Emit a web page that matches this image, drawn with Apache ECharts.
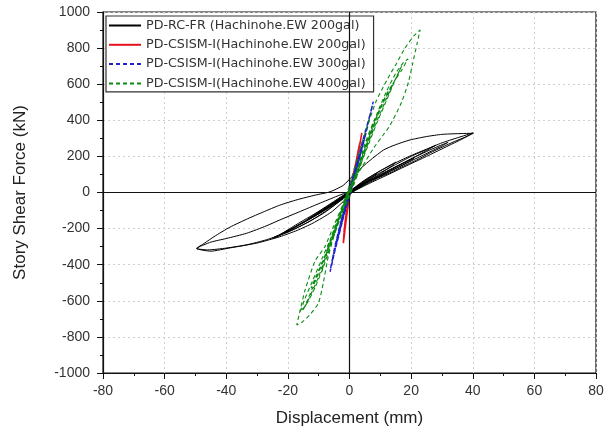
<!DOCTYPE html>
<html>
<head>
<meta charset="utf-8">
<script src="https://cdn.jsdelivr.net/npm/echarts@6/dist/echarts.min.js"></script>
<style>
html,body{margin:0;padding:0;background:#fff;}
#c{width:609px;height:432px;}
</style>
</head>
<body>
<div id="c"></div>
<script>
// ---- Data ----
const seriesNames = [
  'PD-RC-FR (Hachinohe.EW 200gal)',
  'PD-CSISM-I(Hachinohe.EW 200gal)',
  'PD-CSISM-I(Hachinohe.EW 300gal)',
  'PD-CSISM-I(Hachinohe.EW 400gal)'
];
const xTicks = [-80, -60, -40, -20, 0, 20, 40, 60, 80];
const yTicks = [-1000, -800, -600, -400, -200, 0, 200, 400, 600, 800, 1000];

// PD-RC-FR, Hachinohe EW 200gal: [displacement mm, shear kN]
const rcfr200 = [
  [0,0],[2,25],[4,45],[3,30],[1,5],[-1,-15],[-3,-40],[-5,-60],[-4,-45],[-2,-20],[0,5],
  [3,40],[6,75],[9,105],[8,90],[5,55],[2,20],[-1,-12],[-4,-50],[-8,-95],[-11,-125],[-10,-110],[-7,-75],[-3,-30],[0,5],
  [4,55],[8,100],[12,140],[15,168],[14,150],[10,105],[6,60],[2,15],[-2,-25],[-7,-80],[-13,-145],[-19,-205],[-24,-250],[-22,-228],[-17,-175],[-11,-115],[-6,-60],[-2,-15],[1,15],
  [5,60],[10,110],[15,155],[20,200],[25,238],[28,262],[26,242],[21,195],[15,140],[9,85],[4,38],[0,-5],
  [-1.5,-41],[-6,-110],[-11.8,-169],[-17,-210],[-22.6,-245],[-30,-280],[-38.8,-307],[-45,-325],[-49.6,-310],
  [-47,-280],[-44,-245],[-38.8,-192],[-33,-145],[-28,-108],[-22.6,-70],[-17,-40],[-11,-14],[-6.3,4],[-2,40],[1.5,100],[5.6,163],[11,235],[15,265],[19.6,291],[25,310],[30,322],[35,326],[40.2,328],
  [38,310],[34,282],[30.4,254],[26,218],[21.8,180],[17,142],[13.1,108],[9,80],[5.6,60],[2,28],[0,5],
  [-3,-45],[-8,-110],[-14,-170],[-20,-220],[-27,-262],[-33.4,-290],[-40,-308],[-46,-318],[-49.6,-310],
  [-45,-275],[-40,-255],[-33.4,-226],[-27,-185],[-22.6,-152],[-16,-105],[-10,-62],[-4,-20],[0,8],
  [5,70],[10,120],[15,165],[20,205],[25,240],[30,275],[35,303],[40,330],[37,300],[31,250],[25,200],[19,152],[13,103],[7,55],[2,12],
  [-2,-35],[-7,-95],[-12,-150],[-17,-195],[-22,-232],[-25,-252],[-23,-236],[-18,-193],[-12,-138],[-6,-78],[-1,-18],
  [4,45],[10,100],[16,152],[22,203],[28,250],[32,278],[30,258],[24,208],[18,158],[12,108],[6,58],[1,8],
  [-4,-50],[-10,-118],[-16,-178],[-21,-222],[-19,-203],[-13,-143],[-7,-82],[-2,-22],
  [4,42],[10,96],[16,150],[21,190],[19,168],[13,115],[7,60],[1,5],
  [-5,-62],[-11,-125],[-14,-155],[-12,-128],[-6,-65],[0,0]
];

// PD-CSISM-I, Hachinohe EW 200gal
const csism200 = [
  [0,0],[1,80],[2,160],[3,240],[3.6,290],[4,330],[3.6,290],[2.8,210],[1.8,120],[0.8,40],[0,-20],
  [-0.8,-90],[-1.4,-160],[-1.8,-230],[-2,-281],[-1.7,-240],[-1.2,-170],[-0.6,-90],[0,-20],
  [0.8,50],[1.8,140],[2.8,230],[3.3,270],[2.8,220],[1.8,130],[0.8,50],[-0.2,-30],
  [-0.9,-110],[-1.5,-180],[-1.8,-220],[-1.4,-170],[-0.7,-90],[0,0]
];

// PD-CSISM-I, Hachinohe EW 300gal
const csism300 = [
  [0,0],[2,130],[4,260],[5.5,350],[6.8,440],[7.7,503],[7,450],[5.5,340],[3.5,210],[1.5,80],[0,-10],
  [-1.5,-100],[-3,-200],[-4.5,-300],[-5.5,-380],[-6.3,-439],[-5.8,-390],[-4.5,-290],[-3,-180],[-1.5,-70],[0,20],
  [1.5,110],[3,200],[4.5,300],[6,390],[6.5,420],[5.5,350],[4,240],[2.5,140],[1,40],[-0.5,-50],
  [-2,-140],[-3.5,-240],[-5,-340],[-5.6,-380],[-5,-320],[-3.5,-210],[-2,-110],[-0.5,-10],
  [1,70],[3,190],[4.5,280],[5,310],[4,240],[2.5,140],[1,40],[-1,-80],[-2.5,-170],[-4,-270],[-4.5,-300],[-3.5,-220],[-2,-110],[0,0]
];

// PD-CSISM-I, Hachinohe EW 400gal
const csism400 = [
  [0,0],[2,90],[4,180],[5,230],[4,170],[2,70],[0,-20],[-2,-100],[-4,-190],[-5,-240],[-4,-175],[-2,-80],[0,10],
  [2,100],[5,240],[8,380],[9.5,450],[8.5,400],[6,280],[3,140],[0,0],[-3,-140],[-6,-290],[-8,-390],[-9,-440],[-8,-370],[-6,-250],[-3,-110],[0,20],
  [3,130],[6,260],[9,390],[12,510],[14.5,610],[16.9,700],[15.5,650],[12,520],[9,400],[6,270],[3,130],[0,0],
  [-3,-130],[-6,-260],[-9,-400],[-12,-530],[-14,-610],[-15,-650],[-13.5,-600],[-10.1,-470],[-7,-320],[-4,-170],[-1,-30],[1,50],
  [4,140],[8,250],[11,320],[13.1,370],[16.9,500],[19.1,610],[20.5,716],[22,830],[22.9,900],[21,870],[18,800],[15.3,716],[13,650],[11,586],[8.8,512],[6,380],[3,220],[0.2,53],
  [-2,-60],[-5,-180],[-8,-300],[-11.2,-380],[-14.4,-540],[-16,-650],[-17.1,-734],[-15.5,-720],[-13,-680],[-10.1,-614],[-8.5,-500],[-6.9,-356],[-4,-180],[-1,-20],[2,100],
  [5,270],[8,400],[11,500],[14,600],[17,680],[19,740],[17.5,720],[15,660],[12,560],[9,440],[6,300],[3,150],[0,10],
  [-3,-120],[-6,-250],[-9,-370],[-12,-490],[-14.5,-590],[-16,-660],[-14,-620],[-11,-520],[-8,-390],[-5,-230],[-2,-80],[0,10],
  [3,150],[6,290],[9,420],[12,540],[14,600],[12.5,560],[10,470],[7,340],[4,190],[1,40],
  [-2,-90],[-5,-220],[-8,-350],[-11,-470],[-12.5,-530],[-11,-480],[-8,-360],[-5,-220],[-2,-70],[0,0]
];

// ---- Chart ----
const FONT = '"Liberation Sans", Arial, sans-serif';
const chart = echarts.init(document.getElementById('c'), null, {renderer: 'canvas'});
const gridLine = {show: true, lineStyle: {color: '#cfcfcf', type: [2, 3], width: 1}};
const plain = v => String(v);

chart.setOption({
  animation: false,
  backgroundColor: '#fff',
  grid: {left: 103, right: 13, top: 12, bottom: 59, show: true, borderColor: '#111', borderWidth: 1.2, backgroundColor: 'transparent'},
  legend: {
    left: 106, top: 16, orient: 'vertical',
    padding: [3, 8, 2, 2],
    itemWidth: 32, itemHeight: 11, itemGap: 6.3,
    itemStyle: {opacity: 0},
    backgroundColor: '#fff', borderColor: '#333', borderWidth: 1.2, borderRadius: 0,
    textStyle: {fontFamily: '"DejaVu Sans", sans-serif', fontSize: 12.7, color: '#333'},
    data: seriesNames
  },
  xAxis: {
    type: 'value', min: xTicks[0], max: xTicks[xTicks.length - 1], interval: 20,
    name: 'Displacement (mm)', nameLocation: 'middle', nameGap: 37,
    nameTextStyle: {fontFamily: FONT, fontSize: 17, color: '#222'},
    axisLine: {onZero: false, lineStyle: {color: '#111', width: 1.2}},
    axisTick: {show: true, inside: false, length: 6, lineStyle: {color: '#111'}},
    minorTick: {show: true, splitNumber: 2, length: 3, lineStyle: {color: '#111'}},
    axisLabel: {fontFamily: FONT, fontSize: 14, color: '#333', margin: 11, formatter: plain},
    splitLine: gridLine
  },
  yAxis: {
    type: 'value', min: yTicks[0], max: yTicks[yTicks.length - 1], interval: 200,
    name: 'Story Shear Force (kN)', nameLocation: 'middle', nameGap: 74,
    nameTextStyle: {fontFamily: FONT, fontSize: 17, color: '#222'},
    axisLine: {onZero: false, lineStyle: {color: '#111', width: 1.2}},
    axisTick: {show: true, inside: false, length: 6, lineStyle: {color: '#111'}},
    minorTick: {show: true, splitNumber: 2, length: 3, lineStyle: {color: '#111'}},
    axisLabel: {fontFamily: FONT, fontSize: 14, color: '#333', margin: 13, formatter: plain},
    splitLine: gridLine
  },
  series: [
    {
      name: seriesNames[0], type: 'line', data: rcfr200, symbol: 'none', smooth: 0.2,
      lineStyle: {color: '#000', width: 1}, itemStyle: {color: '#000'}, z: 2,
      markLine: {
        silent: true, symbol: 'none', label: {show: false},
        lineStyle: {color: '#111', type: 'solid', width: 1.2},
        data: [{xAxis: 0}, {yAxis: 0}]
      }
    },
    {
      name: seriesNames[1], type: 'line', data: csism200, symbol: 'none', smooth: 0.2,
      lineStyle: {color: '#e8141b', width: 1.6}, itemStyle: {color: '#e8141b'}, z: 3
    },
    {
      name: seriesNames[2], type: 'line', data: csism300, symbol: 'none', smooth: 0.2,
      lineStyle: {color: '#1f22c8', width: 1.5, type: [4, 3]}, itemStyle: {color: '#1f22c8'}, z: 4
    },
    {
      name: seriesNames[3], type: 'line', data: csism400, symbol: 'none', smooth: 0.2,
      lineStyle: {color: '#0b8a12', width: 1.1, type: [4, 3]}, itemStyle: {color: '#0b8a12'}, z: 5
    }
  ]
});
</script>
</body>
</html>
